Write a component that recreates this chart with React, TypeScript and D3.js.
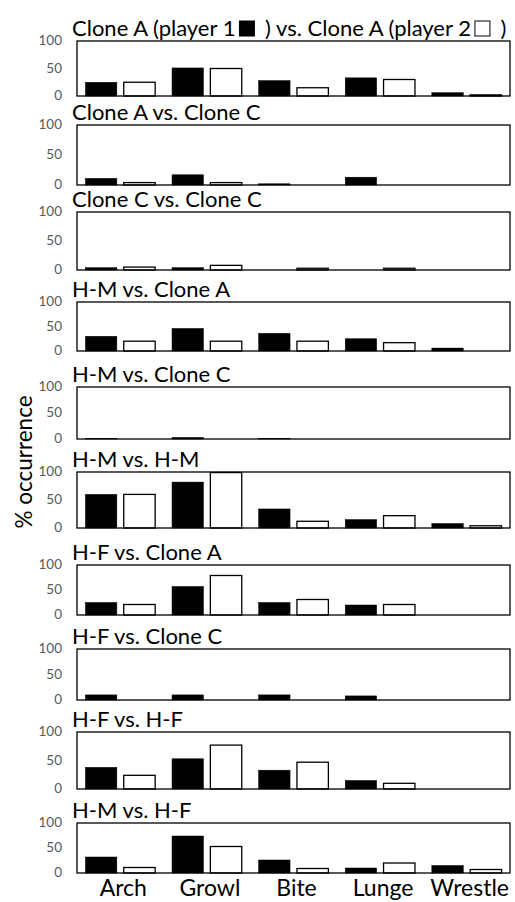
import React, { useEffect, useRef } from "react";
import * as d3 from "d3";

const categories = ["Arch", "Growl", "Bite", "Lunge", "Wrestle"];
const players = ["player1", "player2"];
const yTicks = [0, 50, 100];

const panelTitles = [
  "Clone A (player 1|B| ) vs. Clone A (player 2|W| )",
  "Clone A vs. Clone C",
  "Clone C vs. Clone C",
  "H-M vs. Clone A",
  "H-M vs. Clone C",
  "H-M vs. H-M",
  "H-F vs. Clone A",
  "H-F vs. Clone C",
  "H-F vs. H-F",
  "H-M vs. H-F",
];

// % occurrence, one row per panel, columns follow categories
const player1Values = [
  [25, 51, 28, 33, 6],
  [11, 17, 2, 13, 0],
  [4, 4, 0, 0, 0],
  [30, 46, 36, 25, 6],
  [1, 3, 1, 0, 0],
  [60, 82, 34, 15, 8],
  [25, 57, 25, 20, 0],
  [10, 10, 10, 8, 0],
  [38, 53, 33, 15, 0],
  [32, 74, 26, 10, 15],
];
const player2Values = [
  [25, 50, 15, 30, 2],
  [4, 4, 0, 0, 0],
  [5, 8, 3, 3, 0],
  [20, 20, 20, 17, 0],
  [0, 0, 0, 0, 0],
  [60, 99, 12, 22, 4],
  [21, 79, 31, 21, 0],
  [0, 0, 0, 0, 0],
  [24, 77, 47, 10, 0],
  [11, 53, 9, 20, 7],
];

// panel boxes: [top, bottom] in px
const panelBoxes = [
  [41, 96],
  [125, 185],
  [212, 270],
  [302, 351],
  [387, 439],
  [472, 528],
  [565, 615],
  [649, 700],
  [732, 789],
  [823, 873],
];

const W = 515;
const H = 902;
const left = 77;
const right = 510;
const FONT = "Lato, 'Open Sans', sans-serif";

export default function App() {
  const ref = useRef<SVGSVGElement>(null);

  useEffect(() => {
    const svg = d3.select(ref.current);
    svg.selectAll("*").remove();

    const x0 = d3.scaleBand().domain(categories).range([left, right]).padding(0);
    const x1 = d3
      .scaleBand()
      .domain(players)
      .range([0, x0.bandwidth()])
      .paddingInner(0.18)
      .paddingOuter(0.22);

    panelTitles.forEach((title, i) => {
      const [top, bottom] = panelBoxes[i];
      const y = d3.scaleLinear().domain([0, 100]).range([bottom, top]);
      const g = svg.append("g");

      // bars
      categories.forEach((cat, j) => {
        const vals = [player1Values[i][j], player2Values[i][j]];
        vals.forEach((v, k) => {
          if (v <= 0) return;
          g.append("rect")
            .attr("x", x0(cat)! + x1(players[k])!)
            .attr("y", y(v))
            .attr("width", x1.bandwidth())
            .attr("height", y(0) - y(v))
            .attr("fill", k === 0 ? "#000" : "#fff")
            .attr("stroke", "#000")
            .attr("stroke-width", k === 0 ? 0.5 : 1.3);
        });
      });

      // frame
      g.append("rect")
        .attr("x", left)
        .attr("y", top)
        .attr("width", right - left)
        .attr("height", bottom - top)
        .attr("fill", "none")
        .attr("stroke", "#000")
        .attr("stroke-width", 1.3);

      // y ticks
      g.selectAll("text.tick")
        .data(yTicks)
        .join("text")
        .attr("class", "tick")
        .attr("x", 62)
        .attr("y", (d) => y(d) + 1)
        .attr("text-anchor", "end")
        .attr("dominant-baseline", "middle")
        .attr("font-family", FONT)
        .attr("font-size", 13.5)
        .attr("fill", "#595959")
        .text((d) => d);

      // title, with legend squares in the first one
      let tx = 72;
      const ty = top - 5;
      title.split("|").forEach((part) => {
        if (part === "B" || part === "W") {
          g.append("rect")
            .attr("x", tx + 4)
            .attr("y", ty - 15)
            .attr("width", 15)
            .attr("height", 15)
            .attr("fill", part === "B" ? "#000" : "#fff")
            .attr("stroke", "#000")
            .attr("stroke-width", 1);
          tx += 24;
        } else {
          const t = g
            .append("text")
            .attr("x", tx)
            .attr("y", ty)
            .attr("font-family", FONT)
            .attr("font-size", 22)
            .attr("fill", "#000")
            .style("white-space", "pre")
            .text(part);
          tx += (t.node() as SVGTextElement).getComputedTextLength();
        }
      });
    });

    // category labels
    svg
      .append("g")
      .selectAll("text")
      .data(categories)
      .join("text")
      .attr("x", (d) => x0(d)! + x0.bandwidth() / 2 + 3)
      .attr("y", 896)
      .attr("text-anchor", "middle")
      .attr("font-family", FONT)
      .attr("font-size", 23)
      .attr("fill", "#000")
      .text((d) => d);

    // y axis title
    svg
      .append("text")
      .attr("transform", `translate(32,462) rotate(-90)`)
      .attr("text-anchor", "middle")
      .attr("font-family", FONT)
      .attr("font-size", 22.5)
      .attr("fill", "#000")
      .text("% occurrence");
  }, []);

  return (
    <svg
      ref={ref}
      width={W}
      height={H}
      style={{ position: "absolute", left: 0, top: 0, background: "#fff" }}
    />
  );
}
